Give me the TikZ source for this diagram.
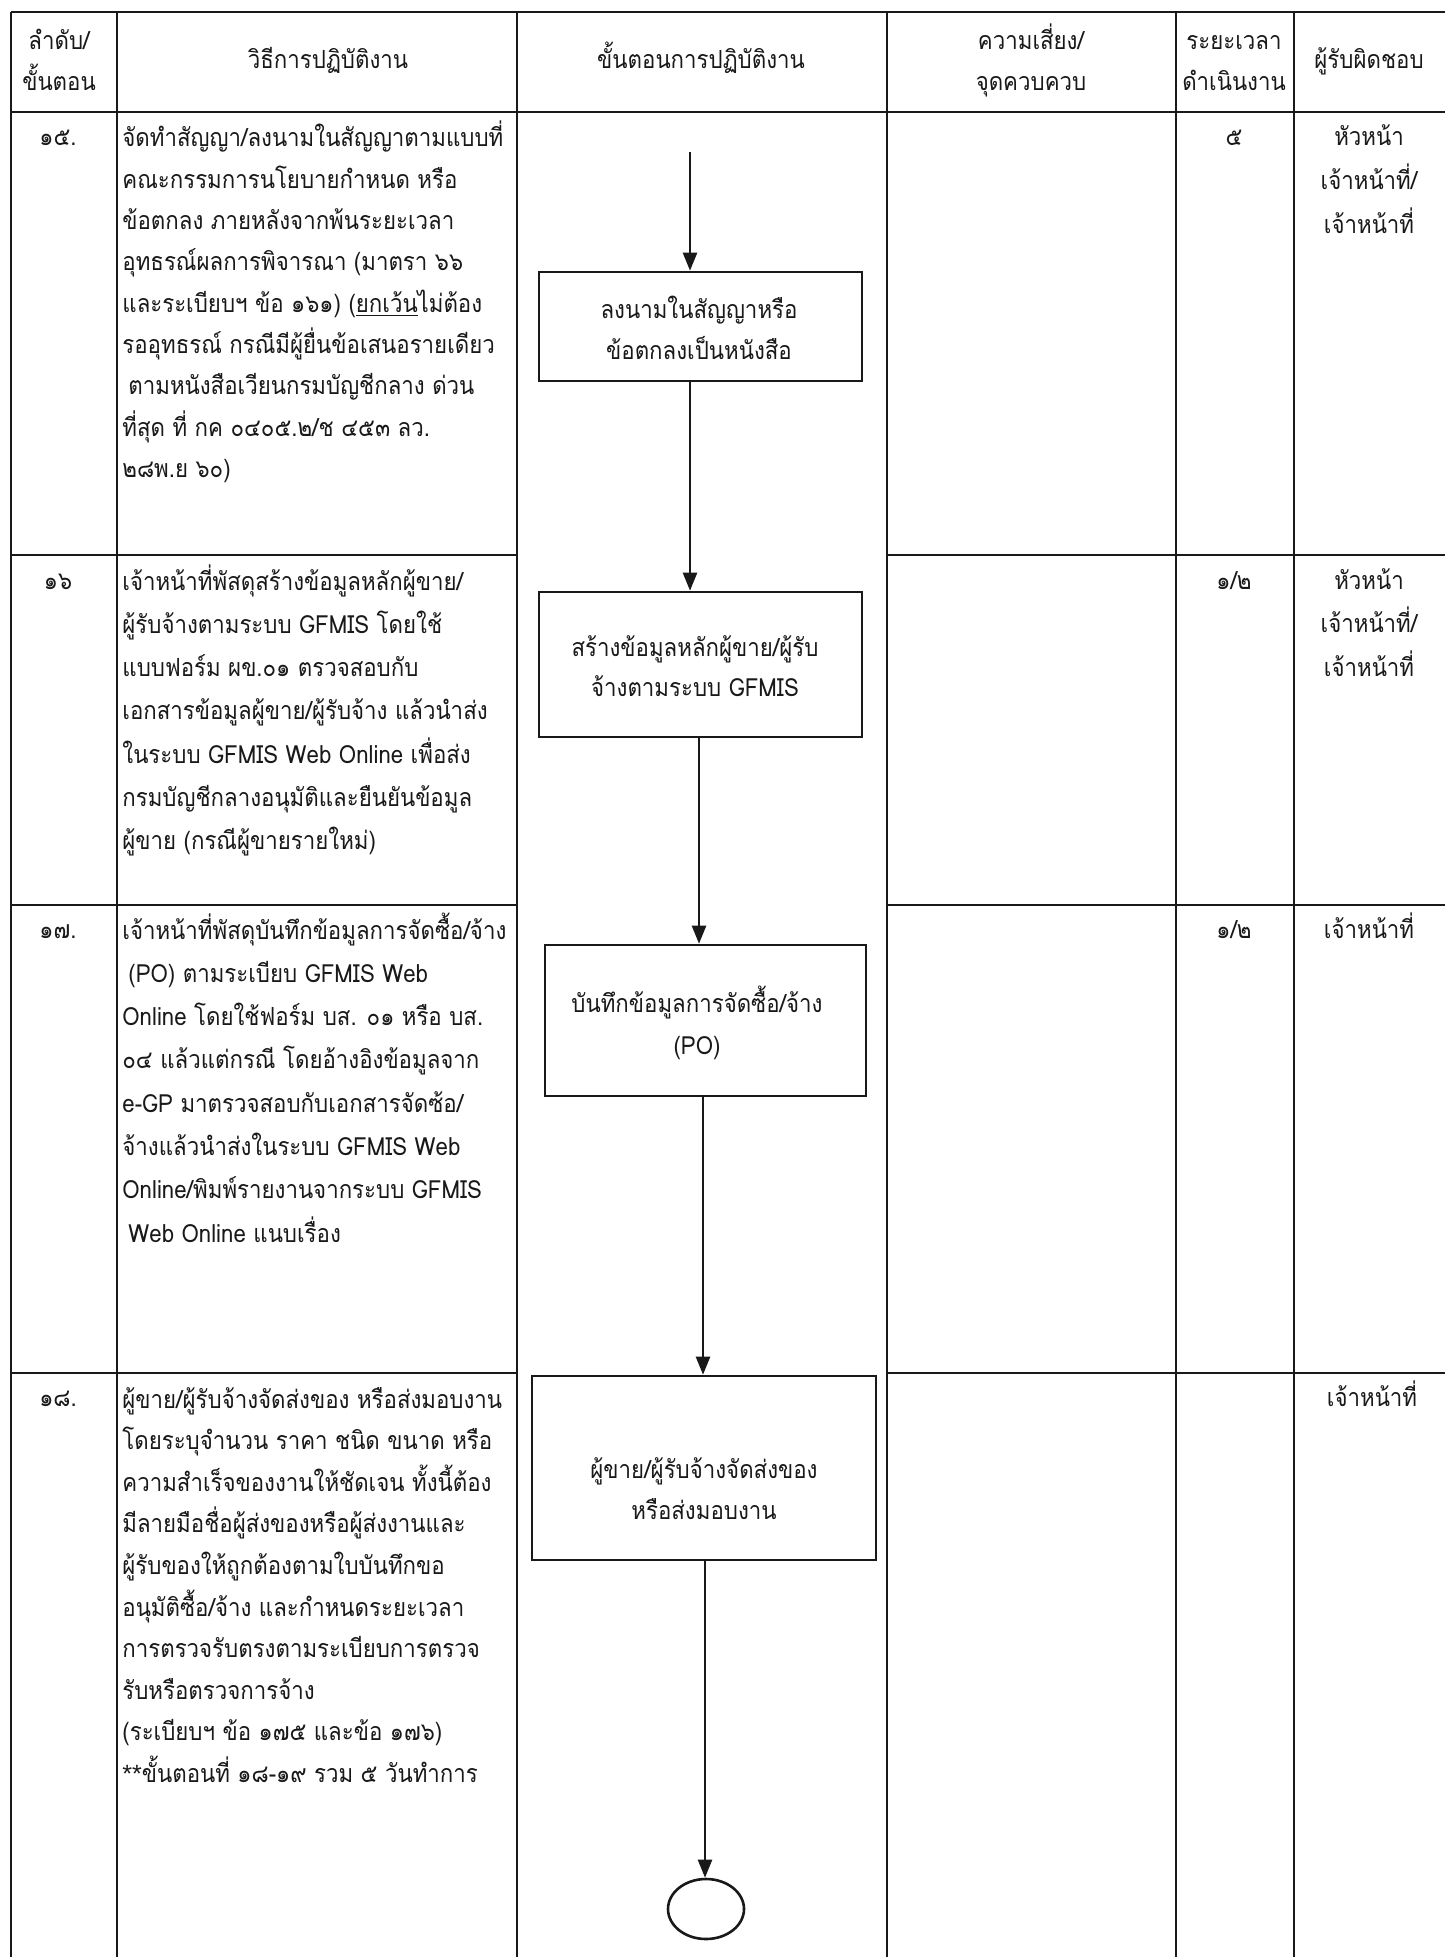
\documentclass[tikz,border=0pt]{standalone}
\usepackage{fontspec}
\setmainfont[Script=Thai, FakeStretch=0.89]{Loma}
\newfontfamily\astfont{Liberation Sans}
\usetikzlibrary{arrows.meta,shapes.geometric}
\newcommand\fsz{12.5}
\newcommand\tblock[4]{\parbox[t]{#1}{#2\fontsize{\fsz}{#3}\selectfont\lineskiplimit=-30pt\relax #4}}
\tikzset{
  grid/.style={draw=black!90, line width=1.4pt},
  flowbox/.style={draw=black!90, line width=1.3pt, rectangle, inner sep=0pt},
  endnode/.style={draw=black!90, line width=1.3pt, ellipse, inner sep=0pt, minimum width=38pt, minimum height=30pt},
  arr/.style={draw=black!90, line width=1.2pt, -{Triangle[length=9pt,width=7pt]}},
  lefttxt/.style={anchor=base west, inner sep=0pt, text=black!90},
  ctrtxt/.style={anchor=base, inner sep=0pt, text=black!90},
}
\begin{document}
\begin{tikzpicture}[x=0.5pt,y=-0.5pt]
\useasboundingbox (0,0) rectangle (1445,1957);
\fill[white] (0,0) rectangle (1445,1957);
% ---------- table grid ----------
\draw[grid] (11,12) -- (1445,12);
\draw[grid] (11,112) -- (1445,112);
\foreach \yy in {555,905,1373}{
  \draw[grid] (11,\yy) -- (517,\yy);
  \draw[grid] (887,\yy) -- (1445,\yy);
}
\foreach \xx in {11,117,517,887,1176,1294}{
  \draw[grid] (\xx,12) -- (\xx,1957);
}
% ---------- header ----------
\node[ctrtxt] (h1) at (59,50) {\tblock{100pt}{\centering}{20.5pt}{ลำดับ/\\ขั้นตอน}};
\node[ctrtxt] (h2) at (328,69) {\tblock{190pt}{\centering}{20.5pt}{วิธีการปฏิบัติงาน}};
\node[ctrtxt] (h3) at (701,69) {\tblock{180pt}{\centering}{20.5pt}{ขั้นตอนการปฏิบัติงาน}};
\node[ctrtxt] (h4) at (1031,50) {\tblock{140pt}{\centering}{20.5pt}{ความเสี่ยง/\\จุดควบควบ}};
\node[ctrtxt] (h5) at (1234,50) {\tblock{60pt}{\centering}{20.5pt}{ระยะเวลา\\ดำเนินงาน}};
\node[ctrtxt] (h6) at (1369,69) {\tblock{75pt}{\centering}{20.5pt}{ผู้รับผิดชอบ}};
% ---------- row 15 ----------
\node[ctrtxt] (n15) at (58,146) {\tblock{50pt}{\centering}{20pt}{๑๕.}};
\node[lefttxt] (t15) at (122,147) {\tblock{400pt}{\raggedright}{20.65pt}{%
จัดทำสัญญา/ลงนามในสัญญาตามแบบที่\\
คณะกรรมการนโยบายกำหนด หรือ\\
ข้อตกลง ภายหลังจากพ้นระยะเวลา\\
อุทธรณ์ผลการพิจารณา (มาตรา ๖๖\\
และระเบียบฯ ข้อ ๑๖๑) (\underline{ยกเว้น}ไม่ต้อง\\
รออุทธรณ์ กรณีมีผู้ยื่นข้อเสนอรายเดียว\\
\hspace*{3pt}ตามหนังสือเวียนกรมบัญชีกลาง ด่วน\\
ที่สุด ที่ กค ๐๔๐๕.๒/ช ๔๕๓ ลว.\\
๒๘พ.ย ๖๐)}};
\node[ctrtxt] (d15) at (1234,146) {\tblock{50pt}{\centering}{20pt}{๕}};
\node[ctrtxt] (r15) at (1369,146) {\tblock{75pt}{\centering}{22pt}{หัวหน้า\\เจ้าหน้าที่/\\เจ้าหน้าที่}};
% ---------- row 16 ----------
\node[ctrtxt] (n16) at (58,589) {\tblock{50pt}{\centering}{20pt}{๑๖}};
\node[lefttxt] (t16) at (122,590) {\tblock{400pt}{\raggedright}{21.65pt}{%
เจ้าหน้าที่พัสดุสร้างข้อมูลหลักผู้ขาย/\\
ผู้รับจ้างตามระบบ GFMIS โดยใช้\\
แบบฟอร์ม ผข.๐๑ ตรวจสอบกับ\\
เอกสารข้อมูลผู้ขาย/ผู้รับจ้าง แล้วนำส่ง\\
ในระบบ GFMIS Web Online เพื่อส่ง\\
กรมบัญชีกลางอนุมัติและยืนยันข้อมูล\\
ผู้ขาย (กรณีผู้ขายรายใหม่)}};
\node[ctrtxt] (d16) at (1234,589) {\tblock{50pt}{\centering}{20pt}{๑/๒}};
\node[ctrtxt] (r16) at (1369,589) {\tblock{75pt}{\centering}{21.75pt}{หัวหน้า\\เจ้าหน้าที่/\\เจ้าหน้าที่}};
% ---------- row 17 ----------
\node[ctrtxt] (n17) at (58,938) {\tblock{50pt}{\centering}{20pt}{๑๗.}};
\node[lefttxt] (t17) at (122,939) {\tblock{400pt}{\raggedright}{21.65pt}{%
เจ้าหน้าที่พัสดุบันทึกข้อมูลการจัดซื้อ/จ้าง\\
\hspace*{3pt}(PO) ตามระเบียบ GFMIS Web\\
Online โดยใช้ฟอร์ม บส. ๐๑ หรือ บส.\\
๐๔ แล้วแต่กรณี โดยอ้างอิงข้อมูลจาก\\
e-GP มาตรวจสอบกับเอกสารจัดซ้อ/\\
จ้างแล้วนำส่งในระบบ GFMIS Web\\
Online/พิมพ์รายงานจากระบบ GFMIS\\
\hspace*{3pt}Web Online แนบเรื่อง}};
\node[ctrtxt] (d17) at (1234,938) {\tblock{50pt}{\centering}{20pt}{๑/๒}};
\node[ctrtxt] (r17) at (1369,938) {\tblock{75pt}{\centering}{20pt}{เจ้าหน้าที่}};
% ---------- row 18 ----------
\node[ctrtxt] (n18) at (58,1406) {\tblock{50pt}{\centering}{20pt}{๑๘.}};
\node[lefttxt] (t18) at (122,1408) {\tblock{400pt}{\raggedright}{20.8pt}{%
ผู้ขาย/ผู้รับจ้างจัดส่งของ หรือส่งมอบงาน\\
โดยระบุจำนวน ราคา ชนิด ขนาด หรือ\\
ความสำเร็จของงานให้ชัดเจน ทั้งนี้ต้อง\\
มีลายมือชื่อผู้ส่งของหรือผู้ส่งงานและ\\
ผู้รับของให้ถูกต้องตามใบบันทึกขอ\\
อนุมัติซื้อ/จ้าง และกำหนดระยะเวลา\\
การตรวจรับตรงตามระเบียบการตรวจ\\
รับหรือตรวจการจ้าง\\
(ระเบียบฯ ข้อ ๑๗๕ และข้อ ๑๗๖)\\
{\astfont **}ขั้นตอนที่ ๑๘-๑๙ รวม ๕ วันทำการ}};
\node[ctrtxt] (r18) at (1372,1406) {\tblock{75pt}{\centering}{20pt}{เจ้าหน้าที่}};
% ---------- flow boxes ----------
\node[flowbox, minimum width=161.5pt, minimum height=54.5pt] (b1) at (700.5,326.5) {};
\node[flowbox, minimum width=161.5pt, minimum height=72.5pt] (b2) at (700.5,664.5) {};
\node[flowbox, minimum width=160.5pt, minimum height=75.5pt] (b3) at (705.5,1020.5) {};
\node[flowbox, minimum width=172pt, minimum height=92pt] (b4) at (704,1468) {};
\node[endnode] (end) at (706,1909) {};
\node[ctrtxt] (b1t) at (699,319) {\tblock{160pt}{\centering}{20.5pt}{ลงนามในสัญญาหรือ\\ข้อตกลงเป็นหนังสือ}};
\node[ctrtxt] (b2t) at (695,656) {\tblock{160pt}{\centering}{20pt}{สร้างข้อมูลหลักผู้ขาย/ผู้รับ\\จ้างตามระบบ GFMIS}};
\node[ctrtxt] (b3t) at (697,1012) {\tblock{160pt}{\centering}{21pt}{บันทึกข้อมูลการจัดซื้อ/จ้าง\\(PO)}};
\node[ctrtxt] (b4t) at (704,1478) {\tblock{170pt}{\centering}{20.5pt}{ผู้ขาย/ผู้รับจ้างจัดส่งของ\\หรือส่งมอบงาน}};
% ---------- connectors ----------
\coordinate (s0) at (690,152);
\coordinate (x2) at (699,0);
\coordinate (x3) at (703,0);
\coordinate (x4) at (705,0);
\draw[arr] (s0) -- (s0 |- b1.north);
\draw[arr] (b1.south -| s0) -- (b2.north -| s0);
\draw[arr] (b2.south -| x2) -- (b3.north -| x2);
\draw[arr] (b3.south -| x3) -- (b4.north -| x3);
\draw[arr] (b4.south -| x4) -- (end.north -| x4);
\end{tikzpicture}
\end{document}
